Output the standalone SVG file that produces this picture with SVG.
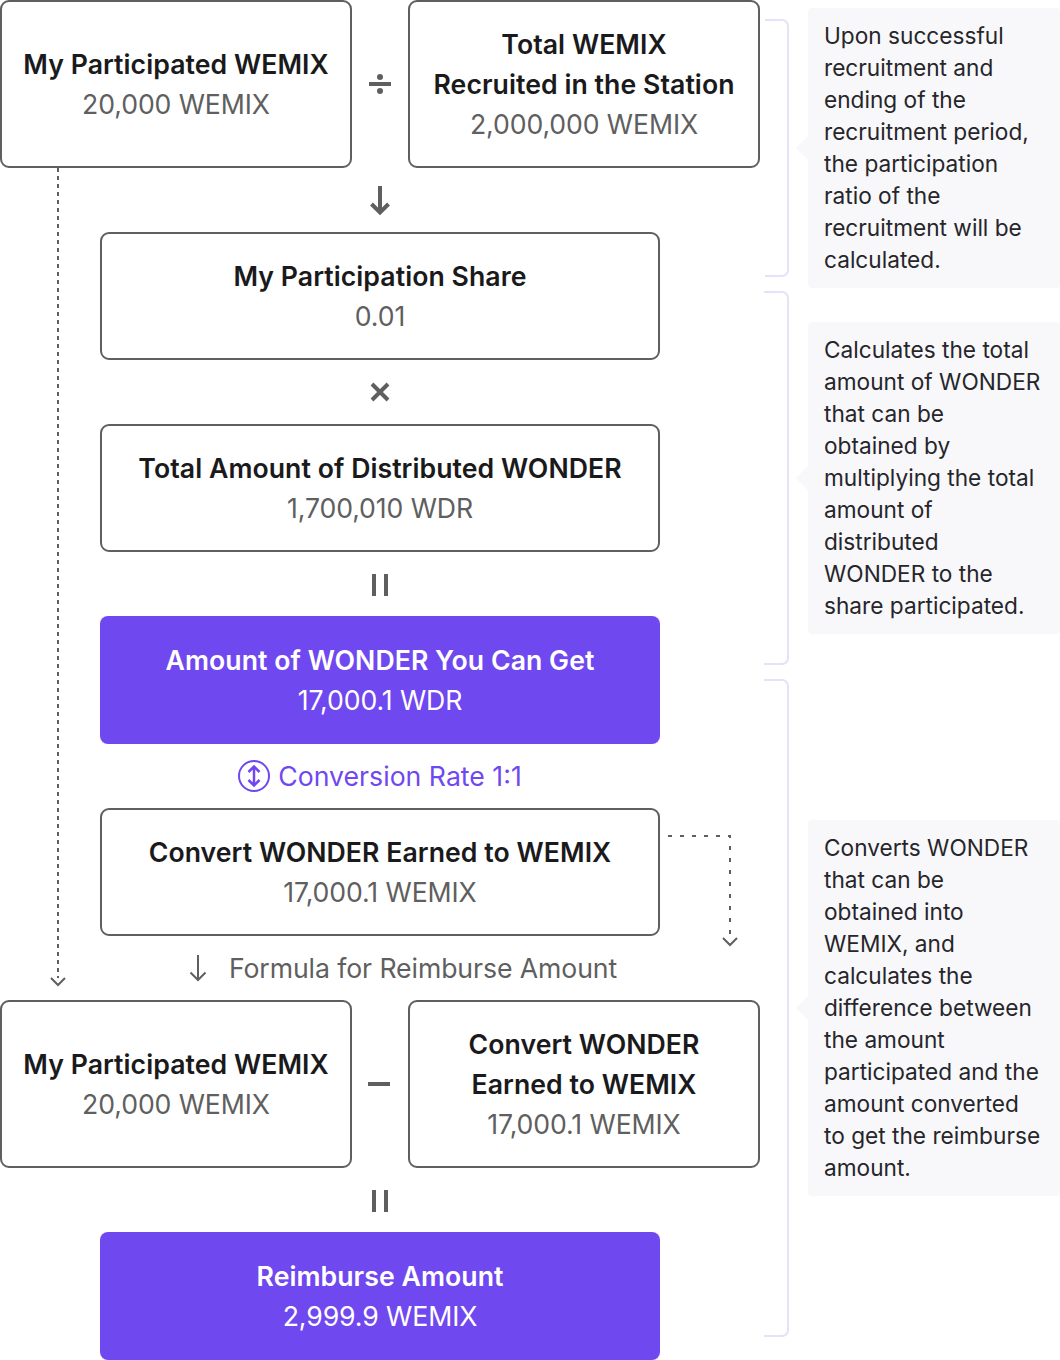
<svg xmlns="http://www.w3.org/2000/svg" width="1060" height="1360" viewBox="0 0 1060 1360">
<style>
text{font-family:Inter,"Noto Sans","Liberation Sans",sans-serif;text-anchor:middle}
.box{fill:#fff;stroke:#5f5f5f;stroke-width:2}
.fill{fill:#7048f0}
.t{font-size:26.67px;font-weight:600;letter-spacing:0.05px;fill:#1a1a1c}
.s{font-size:26.67px;letter-spacing:-0.1px;fill:#5f5f5f}
.tw{font-size:26.67px;font-weight:600;letter-spacing:0.05px;fill:#fff}
.sw{font-size:26.67px;letter-spacing:-0.1px;fill:#fff}
.n{font-size:22.67px;fill:#26262a;text-anchor:start}
.note{fill:#f8f8fb}
.br{fill:none;stroke:#e4e2f8;stroke-width:2}
.op{fill:none;stroke:#5f5f5f;stroke-width:4}
.dash{fill:none;stroke:#5f5f5f;stroke-width:2;stroke-dasharray:4 4}
.dash2{fill:none;stroke:#5f5f5f;stroke-width:2;stroke-dasharray:4 8;stroke-dashoffset:4}
.ah{fill:none;stroke:#5f5f5f;stroke-width:2}
</style>
<g id="connectors">
<path class="dash" d="M58 168V978"/><path class="ah" d="M51 978l7 7 7-7"/>
<path class="dash2" d="M660 836H730V938"/><path class="ah" d="M723 938l7 7 7-7"/>
<path class="ah" d="M198 955V980M190.500 972.500l7.500 7.500 7.500-7.500"/>
</g>
<g id="ops">
<path class="op" d="M380 186V212M371.500 204l8.500 8.500 8.500-8.500"/>
<path d="M369 82h22v4h-22z" fill="#5f5f5f"/><circle cx="380" cy="77" r="3" fill="#5f5f5f"/><circle cx="380" cy="91" r="3" fill="#5f5f5f"/>
<path class="op" d="M372 384l16 16M388 384l-16 16"/>
<path d="M372 574h4v22h-4zM384 574h4v22h-4z" fill="#5f5f5f"/>
<path d="M368 1082h22v4h-22z" fill="#5f5f5f"/>
<path d="M372 1190h4v22h-4zM384 1190h4v22h-4z" fill="#5f5f5f"/>
</g>
<g id="n1"><rect class="box" x="1" y="1" width="350" height="166" rx="8"/><text class="t" x="176" y="74">My Participated WEMIX</text><text class="s" x="176" y="114">20,000 WEMIX</text></g>
<g id="n2"><rect class="box" x="409" y="1" width="350" height="166" rx="8"/><text class="t" x="584" y="54">Total WEMIX</text><text class="t" x="584" y="94">Recruited in the Station</text><text class="s" x="584" y="134">2,000,000 WEMIX</text></g>
<g id="n3"><rect class="box" x="101" y="233" width="558" height="126" rx="8"/><text class="t" x="380" y="286">My Participation Share</text><text class="s" x="380" y="326">0.01</text></g>
<g id="n4"><rect class="box" x="101" y="425" width="558" height="126" rx="8"/><text class="t" x="380" y="478">Total Amount of Distributed WONDER</text><text class="s" x="380" y="518">1,700,010 WDR</text></g>
<g id="n5"><rect class="fill" x="100" y="616" width="560" height="128" rx="8"/><text class="tw" x="380" y="670">Amount of WONDER You Can Get</text><text class="sw" x="380" y="710">17,000.1 WDR</text></g>
<g id="rate"><circle cx="254" cy="776" r="15" fill="none" stroke="#7048f0" stroke-width="2"/><path d="M254 767V785M248.500 772l5.500-5.500 5.500 5.500M248.500 780l5.500 5.500 5.500-5.500" fill="none" stroke="#7048f0" stroke-width="2.500"/><text x="400" y="786" font-size="26.67" fill="#7048f0">Conversion Rate 1:1</text></g>
<g id="n6"><rect class="box" x="101" y="809" width="558" height="126" rx="8"/><text class="t" x="380" y="862">Convert WONDER Earned to WEMIX</text><text class="s" x="380" y="902">17,000.1 WEMIX</text></g>
<g id="formula"><text class="s" x="423" y="978">Formula for Reimburse Amount</text></g>
<g id="n7"><rect class="box" x="1" y="1001" width="350" height="166" rx="8"/><text class="t" x="176" y="1074">My Participated WEMIX</text><text class="s" x="176" y="1114">20,000 WEMIX</text></g>
<g id="n8"><rect class="box" x="409" y="1001" width="350" height="166" rx="8"/><text class="t" x="584" y="1054">Convert WONDER</text><text class="t" x="584" y="1094">Earned to WEMIX</text><text class="s" x="584" y="1134">17,000.1 WEMIX</text></g>
<g id="n9"><rect class="fill" x="100" y="1232" width="560" height="128" rx="8"/><text class="tw" x="380" y="1286">Reimburse Amount</text><text class="sw" x="380" y="1326">2,999.9 WEMIX</text></g>
<g id="brackets">
<path class="br" d="M765 20H782a6 6 0 0 1 6 6V270a6 6 0 0 1-6 6H765"/>
<path class="br" d="M764 292H782a6 6 0 0 1 6 6V658a6 6 0 0 1-6 6H764"/>
<path class="br" d="M764 680H782a6 6 0 0 1 6 6V1330a6 6 0 0 1-6 6H764"/>
</g>
<g id="note1"><rect class="note" x="808" y="8" width="252" height="280" rx="4"/><path class="note" d="M808 136l-12 12 12 12z"/>
<text class="n" x="824" y="44">Upon successful</text><text class="n" x="824" y="76">recruitment and</text><text class="n" x="824" y="108">ending of the</text><text class="n" x="824" y="140">recruitment period,</text><text class="n" x="824" y="172">the participation</text><text class="n" x="824" y="204">ratio of the</text><text class="n" x="824" y="236">recruitment will be</text><text class="n" x="824" y="268">calculated.</text></g>
<g id="note2"><rect class="note" x="808" y="322" width="252" height="312" rx="4"/><path class="note" d="M808 466l-12 12 12 12z"/>
<text class="n" x="824" y="358">Calculates the total</text><text class="n" x="824" y="390">amount of WONDER</text><text class="n" x="824" y="422">that can be</text><text class="n" x="824" y="454">obtained by</text><text class="n" x="824" y="486">multiplying the total</text><text class="n" x="824" y="518">amount of</text><text class="n" x="824" y="550">distributed</text><text class="n" x="824" y="582">WONDER to the</text><text class="n" x="824" y="614">share participated.</text></g>
<g id="note3"><rect class="note" x="808" y="820" width="252" height="376" rx="4"/><path class="note" d="M808 996l-12 12 12 12z"/>
<text class="n" x="824" y="856">Converts WONDER</text><text class="n" x="824" y="888">that can be</text><text class="n" x="824" y="920">obtained into</text><text class="n" x="824" y="952">WEMIX, and</text><text class="n" x="824" y="984">calculates the</text><text class="n" x="824" y="1016">difference between</text><text class="n" x="824" y="1048">the amount</text><text class="n" x="824" y="1080">participated and the</text><text class="n" x="824" y="1112">amount converted</text><text class="n" x="824" y="1144">to get the reimburse</text><text class="n" x="824" y="1176">amount.</text></g>
</svg>
